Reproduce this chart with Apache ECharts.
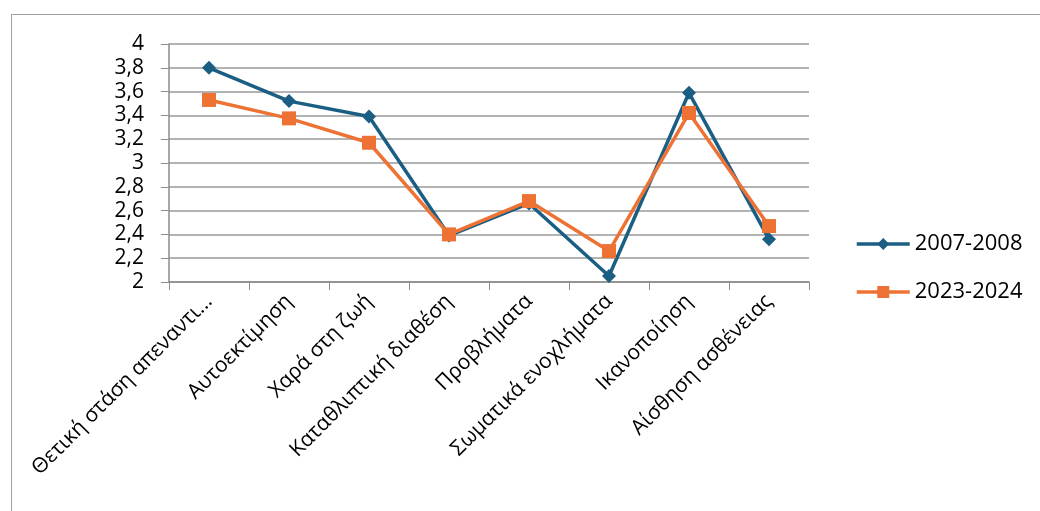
<!DOCTYPE html>
<html>
<head>
<meta charset="utf-8">
<script src="https://cdn.jsdelivr.net/npm/echarts@6/dist/echarts.min.js"></script>
<style>
  html, body { margin: 0; padding: 0; background: #fff; }
  #frame { position: absolute; left: 11px; top: 14px; width: 1040px; height: 520px; border: 1px solid #a0a0a0; }
  #chart { position: absolute; left: 0; top: 0; width: 1040px; height: 511px; }
</style>
</head>
<body>
<div id="frame"></div>
<div id="chart"></div>
<script>
let categories = ['Θετική στάση απεναντι...', 'Αυτοεκτίμηση', 'Χαρά στη ζωή', 'Καταθλιπτική διαθέση',
    'Προβλήματα', 'Σωματικά ενοχλήματα', 'Ικανοποίηση', 'Αίσθηση ασθένειας'];
let values2007 = [3.80, 3.52, 3.39, 2.39, 2.66, 2.05, 3.59, 2.36];
let values2023 = [3.53, 3.375, 3.17, 2.40, 2.68, 2.26, 3.42, 2.47];
let seriesNames = ['2007-2008', '2023-2024'];
let colors = ['#1b5e83', '#ed7234'];

let chart = echarts.init(document.getElementById('chart'));
let font = 'Open Sans, Noto Sans, sans-serif';
let option = {
    animation: false,
    grid: { left: 169, right: 231, top: 44, bottom: 229 },
    legend: {
        orient: 'vertical',
        left: 850,
        top: 228,
        itemGap: 26,
        itemWidth: 53,
        itemHeight: 15,
        textStyle: { fontFamily: font, fontSize: 22, color: '#000' },
        data: [
            { name: seriesNames[0], lineStyle: { width: 3.5, color: colors[0] } },
            { name: seriesNames[1], lineStyle: { width: 3.5, color: colors[1] } }
        ]
    },
    xAxis: {
        type: 'category',
        data: categories,
        boundaryGap: true,
        axisLine: { lineStyle: { color: '#8c8c8c', width: 1.5 } },
        axisTick: { show: true, length: 8, lineStyle: { color: '#8c8c8c' } },
        axisLabel: { rotate: 45, interval: 0, fontFamily: font, fontSize: 21, color: '#000', margin: 16 }
    },
    yAxis: {
        type: 'value',
        min: 2,
        max: 4,
        interval: 0.2,
        axisLine: { show: true, lineStyle: { color: '#8c8c8c', width: 1.5 } },
        axisTick: { show: true, length: 8, lineStyle: { color: '#8c8c8c' } },
        splitLine: { lineStyle: { color: '#9a9a9a', width: 1.5 } },
        axisLabel: {
            fontFamily: font, fontSize: 21, color: '#000', margin: 25,
            formatter: function (v) { return String(Math.round(v * 10) / 10).replace('.', ','); }
        }
    },
    series: [
        {
            name: seriesNames[0],
            type: 'line',
            data: values2007,
            symbol: 'diamond',
            symbolSize: 14,
            itemStyle: { color: colors[0] },
            lineStyle: { color: colors[0], width: 3.5 }
        },
        {
            name: seriesNames[1],
            type: 'line',
            data: values2023,
            symbol: 'rect',
            symbolSize: 14,
            itemStyle: { color: colors[1] },
            lineStyle: { color: colors[1], width: 3.5 }
        }
    ]
};
chart.setOption(option);
</script>
</body>
</html>
